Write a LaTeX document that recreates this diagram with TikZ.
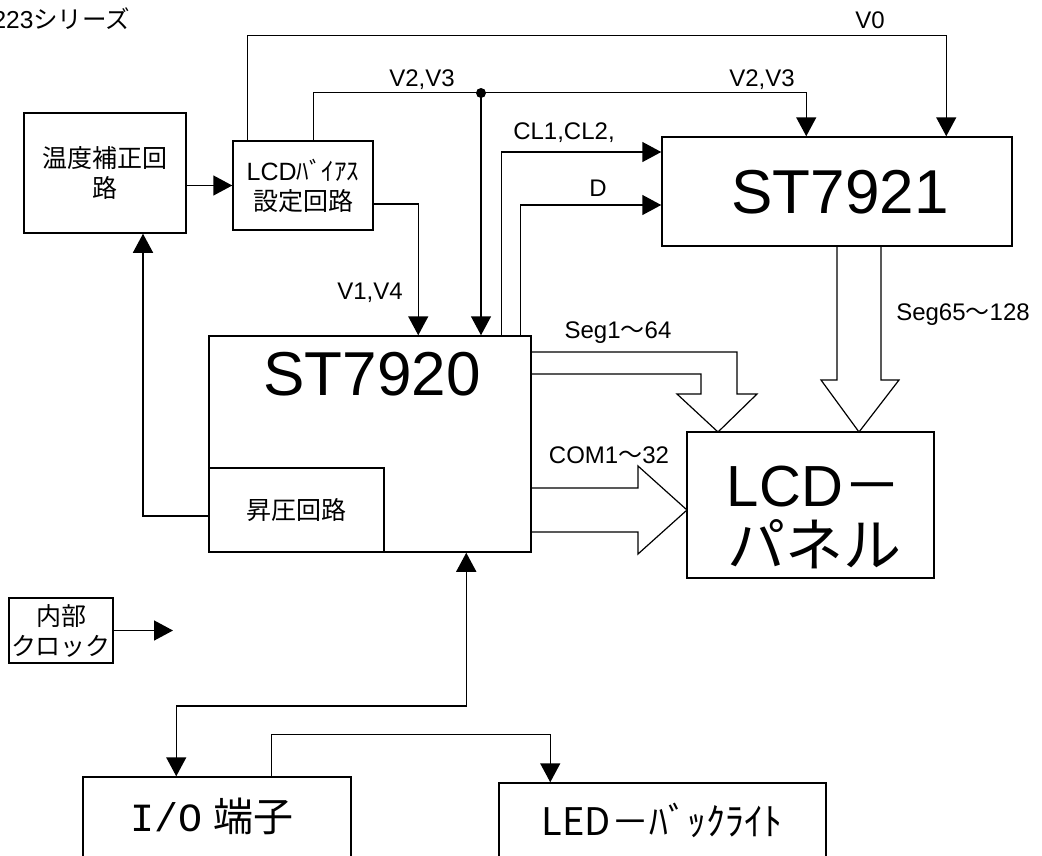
\documentclass[tikz,border=0pt]{standalone}
\usepackage{fontspec}
\setmainfont{Liberation Sans}
\newfontfamily\jp{Noto Sans CJK JP}
\newfontfamily\monof{Liberation Mono}
\usetikzlibrary{arrows.meta}
\begin{document}
\begin{tikzpicture}[x=1pt,y=-1pt,line width=1.5pt,
  box/.style={draw,line width=1.5pt,inner sep=0pt,align=center},
  lab/.style={inner sep=0pt,font=\fontsize{24}{28}\selectfont},
  boxtxt/.style={font=\fontsize{25}{30}\selectfont},
  big/.style={inner sep=0pt,font=\fontsize{62}{64}\selectfont},
  arr/.style={-{Triangle[length=19pt,width=20pt]}},
  biarr/.style={{Triangle[length=19pt,width=20pt]}-{Triangle[length=19pt,width=20pt]}},
  hollow/.style={line width=1.2pt,line join=miter}]
\useasboundingbox (0,0) rectangle (1042,855);
% title
\node[inner sep=0pt,anchor=east,font=\fontsize{24.5}{28}\selectfont] (title) at (131,19) {223{\jp シリーズ}};
% boxes
\node[box,boxtxt,minimum width=162pt,minimum height=120pt] (temp) at (105,173) {{\jp 温度補正回}\\{\jp 路}};
\node[box,boxtxt,minimum width=140pt,minimum height=89pt] (bias) at (303,185.5) {LCD{\jp ﾊﾞｲｱｽ}\\{\jp 設定回路}};
\node[box,minimum width=322pt,minimum height=216pt] (st20) at (370,444) {};
\node[big] (st20t) at (372,374) {ST7920};
\node[box,boxtxt,minimum width=175pt,minimum height=84pt] (boost) at (296.5,510) {\jp 昇圧回路};
\node[box,minimum width=350pt,minimum height=109pt] (st21) at (837,191.5) {};
\node[big] (st21t) at (840,192) {ST7921};
\node[box,minimum width=247pt,minimum height=146pt] (lcd) at (810.5,505) {};
\node[inner sep=0pt,align=center,font=\fontsize{58}{60}\selectfont] (lcdt) at (814,517) {LCD{\jp －}\\{\jp パネル}};
\node[box,boxtxt,minimum width=104pt,minimum height=65pt] (clock) at (61,630.5) {{\jp 内部}\\{\jp クロック}};
\node[box,minimum width=268pt,minimum height=100pt] (io) at (217,827) {};
\node[inner sep=0pt,font=\fontsize{40}{44}\selectfont] (iot) at (212,816) {{\monof I/O} {\jp 端子}};
\node[box,minimum width=327pt,minimum height=100pt] (led) at (662.5,833) {};
\node[inner sep=0pt,font=\fontsize{38}{44}\selectfont] (ledt) at (662,820) {\jp LED－ﾊﾞｯｸﾗｲﾄ};
% labels
\node[lab] (lv0) at (870,20) {V0};
\node[lab] (lv23a) at (422,80) {V2,V3};
\node[lab] (lv23b) at (762,80) {V2,V3};
\node[lab] (lcl) at (564,133) {CL1,CL2,};
\node[lab] (ld) at (598,188) {D};
\node[lab] (lv14) at (370,293) {V1,V4};
\node[lab] (lseg1) at (618,333) {Seg1{\jp ～}64};
\node[lab] (lseg2) at (963,315) {Seg65{\jp ～}128};
\node[lab] (lcom) at (609,455) {COM1{\jp ～}32};
% connectors
\draw[arr] (temp.east |- bias.west) -- (bias.west);
\draw[arr] ([xshift=15pt]bias.north west) -- ++(0,-105) -| ([xshift=285pt]st21.north west);
\draw[arr] ([xshift=81pt]bias.north west) -- ++(0,-48) -| ([xshift=145pt]st21.north west);
\coordinate (j) at (481,93);
\fill (j) circle (5pt);
\draw[arr] (j) -- (j |- st20.north);
\draw[arr] ([yshift=-18.5pt]bias.east) -| ([xshift=210pt]st20.north west);
\draw[arr] ([xshift=293pt]st20.north west) |- ([yshift=39.5pt]st21.west);
\draw[arr] ([xshift=312pt]st20.north west) |- ([yshift=-13.5pt]st21.west);
\draw[arr] ([yshift=-6pt]boost.west) -| ([xshift=38pt]temp.south);
\coordinate (clkend) at (173,630.5);
\draw[arr] (clock.east) -- (clkend);
\draw[biarr] ([xshift=258pt]st20.south west) -- ++(0,153) -| ([xshift=94pt]io.north west);
\draw[arr] ([xshift=189pt]io.north west) -- ++(0,-42) -| ([xshift=52pt]led.north west);
% hollow arrows
\draw[hollow] (531,352) -- (737,352) -- (737,394) -- (757,394) -- (718,432) -- (677,394) -- (701,394) -- (701,374) -- (531,374);
\draw[hollow] (837,246) -- (837,380) -- (821,380) -- (859,432) -- (899,380) -- (881,380) -- (881,246);
\draw[hollow] (531,488) -- (638,488) -- (638,466) -- (687,510) -- (638,554) -- (638,532) -- (531,532);
\end{tikzpicture}
\end{document}
